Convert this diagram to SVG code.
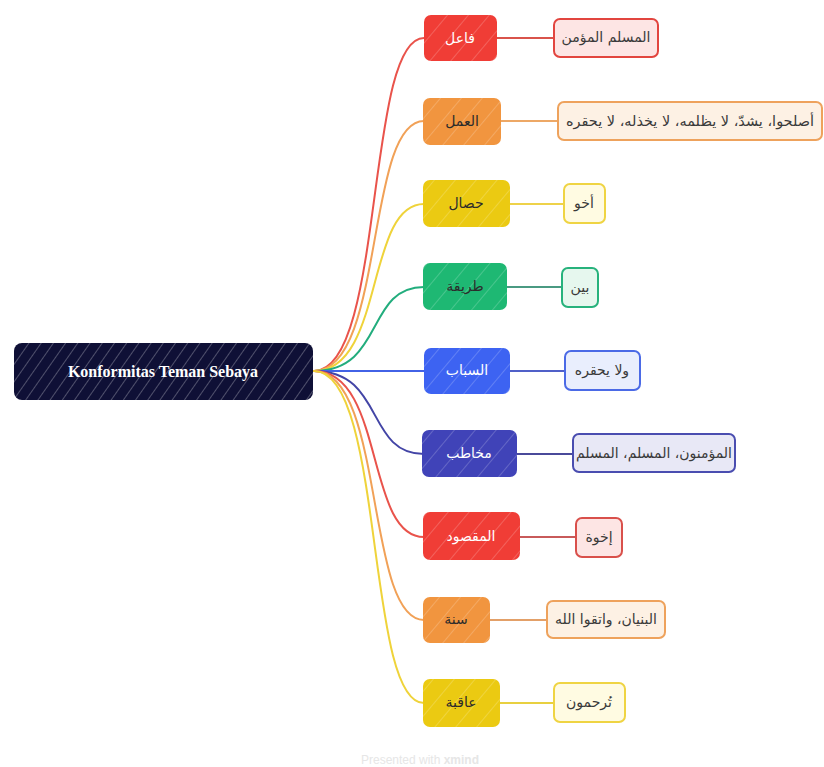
<svg xmlns="http://www.w3.org/2000/svg" width="824" height="767" viewBox="0 0 824 767">
  <defs>
    <pattern id="hatch" width="10" height="10" patternUnits="userSpaceOnUse" patternTransform="rotate(35)">
      <line x1="0" y1="0" x2="0" y2="10" stroke="#ffffff" stroke-width="1.2" stroke-opacity="0.45"/>
    </pattern>
    <pattern id="hatchSparse" width="16" height="16" patternUnits="userSpaceOnUse" patternTransform="rotate(40)">
      <line x1="0" y1="0" x2="0" y2="16" stroke="#ffffff" stroke-width="1.1" stroke-opacity="0.35"/>
    </pattern>
  </defs>
  <style>
    .root-text { font-family: "Liberation Serif", "DejaVu Serif", serif; font-weight: bold; font-size: 16px; fill: #ffffff; }
    .ar { font-family: "DejaVu Sans", "Noto Sans", sans-serif; font-size: 14px; }
    .light { fill: #ffffff; }
    .dark { fill: #2b2b2b; }
    .leaf-text { fill: #3a3a3a; }
    .conn { fill: none; stroke-width: 2; stroke-linecap: round; }
    .leaf { stroke-width: 2; }
    .footer { font-family: "Liberation Sans", Arial, sans-serif; font-size: 12px; fill: #e6e6e6; }
  </style>

  <rect width="824" height="767" fill="#ffffff"/>

  <!-- connectors -->
  <g id="connectors">
    <path class="conn" stroke="#e9534b" d="M314,371 C385,371 365,38 424,38"/>
    <path class="conn" stroke="#f1a157" d="M314,371 C385,371 365,121 424,121"/>
    <path class="conn" stroke="#efd33a" d="M314,371 C385,371 365,204 424,204"/>
    <path class="conn" stroke="#22ad7d" d="M314,371 C385,371 365,287 424,287"/>
    <path class="conn" stroke="#4262e6" d="M314,371 L424,371"/>
    <path class="conn" stroke="#4345a6" d="M314,371 C385,371 365,454 424,454"/>
    <path class="conn" stroke="#e9534b" d="M314,371 C385,371 365,537 424,537"/>
    <path class="conn" stroke="#f1a157" d="M314,371 C385,371 365,620 424,620"/>
    <path class="conn" stroke="#efd33a" d="M314,371 C385,371 365,703 424,703"/>

    <line class="conn" stroke="#d9534b" x1="497" y1="38" x2="553" y2="38"/>
    <line class="conn" stroke="#eda866" x1="501" y1="121" x2="557" y2="121"/>
    <line class="conn" stroke="#eed24a" x1="510" y1="204" x2="563" y2="204"/>
    <line class="conn" stroke="#4a9a82" x1="507" y1="287" x2="562" y2="287"/>
    <line class="conn" stroke="#5060c8" x1="510" y1="371" x2="565" y2="371"/>
    <line class="conn" stroke="#4a4a9a" x1="517" y1="454" x2="572" y2="454"/>
    <line class="conn" stroke="#c85a5a" x1="520" y1="537" x2="575" y2="537"/>
    <line class="conn" stroke="#e3a068" x1="490" y1="620" x2="547" y2="620"/>
    <line class="conn" stroke="#e8d040" x1="500" y1="703" x2="553" y2="703"/>
  </g>

  <!-- central topic -->
  <g id="root">
    <rect x="14" y="343" width="299" height="57" rx="8" fill="#0f1036"/>
    <rect x="14" y="343" width="299" height="57" rx="8" fill="url(#hatch)"/>
    <text class="root-text" x="163" y="377" text-anchor="middle">Konformitas Teman Sebaya</text>
  </g>

  <!-- main topics -->
  <g id="b1">
    <rect x="424" y="15" width="73" height="46" rx="7" fill="#f03d36"/>
    <rect x="424" y="15" width="73" height="46" rx="7" fill="url(#hatchSparse)"/>
    <text class="ar light" x="460" y="43" text-anchor="middle" direction="rtl">فاعل</text>
  </g>
  <g id="b2">
    <rect x="423" y="98" width="78" height="47" rx="7" fill="#f1953f"/>
    <rect x="423" y="98" width="78" height="47" rx="7" fill="url(#hatchSparse)"/>
    <text class="ar dark" x="462" y="126" text-anchor="middle" direction="rtl">العمل</text>
  </g>
  <g id="b3">
    <rect x="423" y="180" width="87" height="47" rx="7" fill="#ebca12"/>
    <rect x="423" y="180" width="87" height="47" rx="7" fill="url(#hatchSparse)"/>
    <text class="ar dark" x="466" y="208" text-anchor="middle" direction="rtl">حصال</text>
  </g>
  <g id="b4">
    <rect x="423" y="263" width="84" height="47" rx="7" fill="#1eb873"/>
    <rect x="423" y="263" width="84" height="47" rx="7" fill="url(#hatchSparse)"/>
    <text class="ar dark" x="465" y="291" text-anchor="middle" direction="rtl">طريقة</text>
  </g>
  <g id="b5">
    <rect x="424" y="348" width="86" height="46" rx="7" fill="#3d63f2"/>
    <rect x="424" y="348" width="86" height="46" rx="7" fill="url(#hatchSparse)"/>
    <text class="ar light" x="467" y="375" text-anchor="middle" direction="rtl">السباب</text>
  </g>
  <g id="b6">
    <rect x="422" y="430" width="95" height="47" rx="7" fill="#4043b8"/>
    <rect x="422" y="430" width="95" height="47" rx="7" fill="url(#hatchSparse)"/>
    <text class="ar light" x="469" y="458" text-anchor="middle" direction="rtl">مخاطب</text>
  </g>
  <g id="b7">
    <rect x="423" y="512" width="97" height="48" rx="7" fill="#f03d36"/>
    <rect x="423" y="512" width="97" height="48" rx="7" fill="url(#hatchSparse)"/>
    <text class="ar light" x="471" y="541" text-anchor="middle" direction="rtl">المقصود</text>
  </g>
  <g id="b8">
    <rect x="423" y="597" width="67" height="46" rx="7" fill="#f1953f"/>
    <rect x="423" y="597" width="67" height="46" rx="7" fill="url(#hatchSparse)"/>
    <text class="ar dark" x="456" y="624" text-anchor="middle" direction="rtl">سنة</text>
  </g>
  <g id="b9">
    <rect x="423" y="679" width="77" height="48" rx="7" fill="#ebca12"/>
    <rect x="423" y="679" width="77" height="48" rx="7" fill="url(#hatchSparse)"/>
    <text class="ar dark" x="461" y="707" text-anchor="middle" direction="rtl">عاقبة</text>
  </g>

  <!-- subtopics -->
  <g id="l1">
    <rect class="leaf" x="554" y="19" width="104" height="38" rx="6" fill="#fde5e4" stroke="#e2453f"/>
    <text class="ar leaf-text" x="606" y="42" text-anchor="middle" direction="rtl">المسلم المؤمن</text>
  </g>
  <g id="l2">
    <rect class="leaf" x="558" y="102" width="264" height="38" rx="6" fill="#fdf1e4" stroke="#eea25c"/>
    <text class="ar leaf-text" x="690" y="126" text-anchor="middle" direction="rtl" textLength="248" lengthAdjust="spacingAndGlyphs">أصلحوا، يشدّ، لا يظلمه، لا يخذله، لا يحقره</text>
  </g>
  <g id="l3">
    <rect class="leaf" x="564" y="184" width="41" height="39" rx="6" fill="#fffbe2" stroke="#efd443"/>
    <text class="ar leaf-text" x="584" y="208" text-anchor="middle" direction="rtl">أخو</text>
  </g>
  <g id="l4">
    <rect class="leaf" x="562" y="268" width="36" height="39" rx="6" fill="#e6f7ee" stroke="#27b27c"/>
    <text class="ar leaf-text" x="580" y="292" text-anchor="middle" direction="rtl">بين</text>
  </g>
  <g id="l5">
    <rect class="leaf" x="565" y="351" width="75" height="39" rx="6" fill="#e9eefd" stroke="#4b6ae6"/>
    <text class="ar leaf-text" x="602" y="375" text-anchor="middle" direction="rtl">ولا يحقره</text>
  </g>
  <g id="l6">
    <rect class="leaf" x="573" y="434" width="162" height="38" rx="6" fill="#e8e8f6" stroke="#4a4db0"/>
    <text class="ar leaf-text" x="654" y="458" text-anchor="middle" direction="rtl">المؤمنون، المسلم، المسلم</text>
  </g>
  <g id="l7">
    <rect class="leaf" x="576" y="518" width="46" height="39" rx="6" fill="#fde5e4" stroke="#d9504b"/>
    <text class="ar leaf-text" x="599" y="542" text-anchor="middle" direction="rtl">إخوة</text>
  </g>
  <g id="l8">
    <rect class="leaf" x="547" y="601" width="118" height="37" rx="6" fill="#fdf1e4" stroke="#eea25c"/>
    <text class="ar leaf-text" x="606" y="624" text-anchor="middle" direction="rtl">البنيان، واتقوا الله</text>
  </g>
  <g id="l9">
    <rect class="leaf" x="554" y="683" width="71" height="39" rx="6" fill="#fffbe2" stroke="#efd443"/>
    <text class="ar leaf-text" x="589" y="707" text-anchor="middle" direction="rtl">تُرحمون</text>
  </g>

  <text class="footer" x="420" y="764" text-anchor="middle">Presented with <tspan font-weight="bold">xmind</tspan></text>
</svg>
